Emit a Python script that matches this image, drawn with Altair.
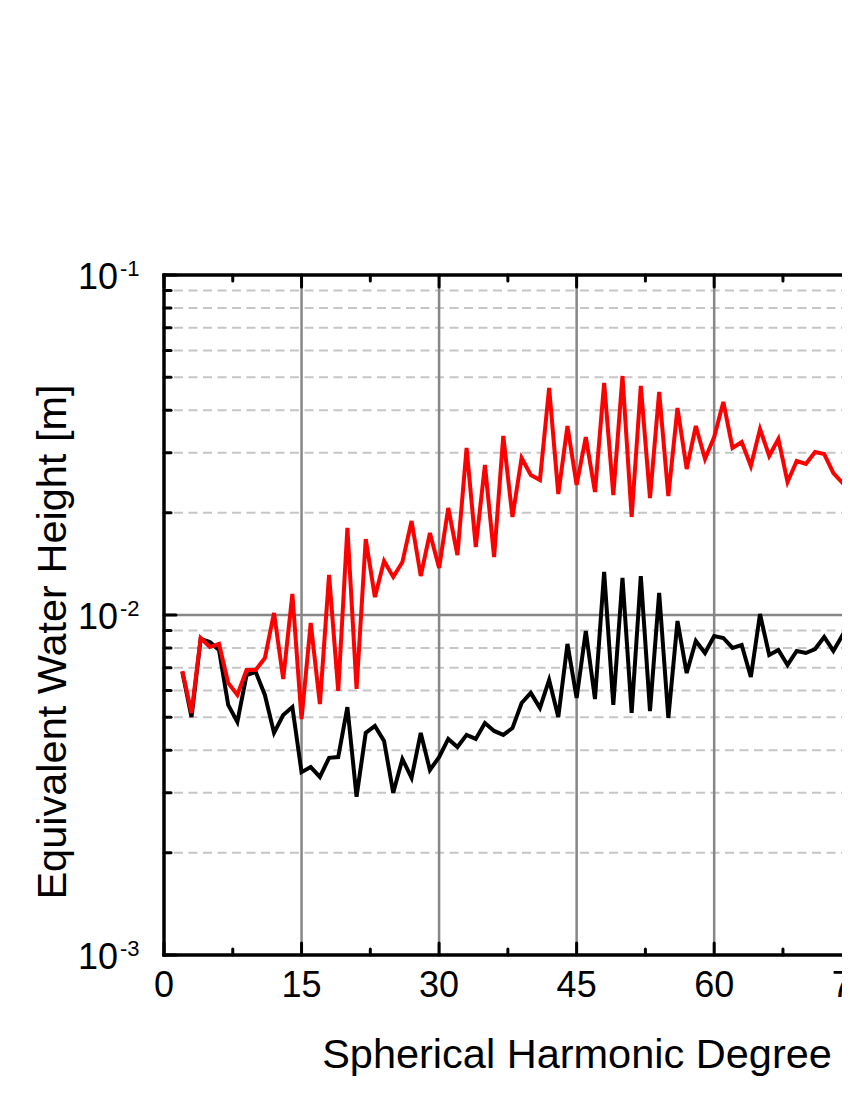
import altair as alt
import pandas as pd

# ---------------- data ----------------
degree = [2, 3, 4, 5, 6, 7, 8, 9, 10, 11,
          12, 13, 14, 15, 16, 17, 18, 19, 20, 21,
          22, 23, 24, 25, 26, 27, 28, 29, 30, 31,
          32, 33, 34, 35, 36, 37, 38, 39, 40, 41,
          42, 43, 44, 45, 46, 47, 48, 49, 50, 51,
          52, 53, 54, 55, 56, 57, 58, 59, 60, 61,
          62, 63, 64, 65, 66, 67, 68, 69, 70, 71,
          72, 73, 74, 75]

red_values = [0.00684, 0.00515, 0.00856, 0.00805, 0.00822, 0.00631, 0.00582, 0.00689, 0.00689, 0.00747,
              0.01014, 0.00648, 0.01153, 0.00494, 0.00947, 0.00547, 0.01311, 0.00598, 0.01803, 0.00606,
              0.01673, 0.01129, 0.01441, 0.01294, 0.01432, 0.01890, 0.01302, 0.01743, 0.01375, 0.02064,
              0.01501, 0.03099, 0.01585, 0.02762, 0.01481, 0.03361, 0.01942, 0.02896, 0.02581, 0.02495,
              0.04651, 0.02269, 0.03596, 0.02412, 0.03338, 0.02300, 0.04812, 0.02254, 0.05045, 0.01942,
              0.04716, 0.02208, 0.04528, 0.02239, 0.04062, 0.02688, 0.03596, 0.02876, 0.03338, 0.04231,
              0.03099, 0.03227, 0.02743, 0.03524, 0.02935, 0.03293, 0.02461, 0.02837, 0.02781, 0.03016,
              0.02975, 0.02616, 0.02445, 0.02818]

black_values = [0.00680, 0.00501, 0.00850, 0.00833, 0.00789, 0.00544, 0.00485, 0.00666, 0.00680, 0.00582,
                0.00450, 0.00508, 0.00536, 0.00345, 0.00357, 0.00334, 0.00380, 0.00382, 0.00536, 0.00292,
                0.00450, 0.00472, 0.00426, 0.00300, 0.00377, 0.00332, 0.00450, 0.00350, 0.00382, 0.00432,
                0.00409, 0.00444, 0.00432, 0.00481, 0.00456, 0.00444, 0.00465, 0.00551, 0.00590, 0.00533,
                0.00644, 0.00501, 0.00822, 0.00570, 0.00897, 0.00566, 0.01338, 0.00544, 0.01285, 0.00515,
                0.01302, 0.00522, 0.01161, 0.00498, 0.00960, 0.00675, 0.00839, 0.00773, 0.00867, 0.00856,
                0.00800, 0.00816, 0.00657, 0.01007, 0.00763, 0.00789, 0.00713, 0.00784, 0.00773, 0.00794,
                0.00862, 0.00784, 0.00873, 0.00763]

x_major_ticks = [0, 15, 30, 45, 60]
x_minor_ticks = [7.5, 22.5, 37.5, 52.5, 67.5]
x_grid = [15, 30, 45, 60]
x_label_pos = [0, 15, 30, 45, 60, 75]
x_label_text = ["0", "15", "30", "45", "60", "75"]

y_major = [0.001, 0.01, 0.1]
y_exponent = ["-3", "-2", "-1"]
y_minor = [0.002, 0.003, 0.004, 0.005, 0.006, 0.007, 0.008, 0.009,
           0.02, 0.03, 0.04, 0.05, 0.06, 0.07, 0.08, 0.09]
y_solid_grid = [0.01]

x_title = "Spherical Harmonic Degree"
y_title = "Equivalent Water Height [m]"

# ---------------- layout ----------------
W = 678
H = 680
FONT = "Liberation Sans"

xs = alt.Scale(domain=[0, 73.94], nice=False, zero=False)
ys = alt.Scale(type="log", domain=[0.001, 0.1], nice=False)

red_df = pd.DataFrame({"degree": degree, "value": red_values})
black_df = pd.DataFrame({"degree": degree, "value": black_values})
xmaj_df = pd.DataFrame({"d": x_major_ticks})
xmin_df = pd.DataFrame({"d": x_minor_ticks})
xgrid_df = pd.DataFrame({"d": x_grid})
xlab_df = pd.DataFrame({"d": x_label_pos, "t": x_label_text})
ymaj_df = pd.DataFrame({"v": y_major, "e": y_exponent})
ymin_df = pd.DataFrame({"v": y_minor})
ysolid_df = pd.DataFrame({"v": y_solid_grid})

X = lambda f: alt.X(f, scale=xs, axis=None)
Y = lambda f: alt.Y(f, scale=ys, axis=None)

hgrid_dash = alt.Chart(ymin_df).mark_rule(
    color="#c6c6c6", strokeWidth=2, strokeDash=[9, 5.5]
).encode(y=Y("v:Q"), x=alt.value(10), x2=alt.value(W))

hgrid_solid = alt.Chart(ysolid_df).mark_rule(
    color="#878787", strokeWidth=2.5
).encode(y=Y("v:Q"), x=alt.value(0), x2=alt.value(W))

vgrid = alt.Chart(xgrid_df).mark_rule(
    color="#878787", strokeWidth=2.5
).encode(x=X("d:Q"), y=alt.value(0), y2=alt.value(H))

black_line = alt.Chart(black_df).mark_line(
    color="#000000", strokeWidth=4, clip=True
).encode(x=X("degree:Q"), y=Y("value:Q"))

red_line = alt.Chart(red_df).mark_line(
    color="#ff0000", strokeWidth=4, clip=True
).encode(x=X("degree:Q"), y=Y("value:Q"))

# frame (left, top, bottom)
frame_left = alt.Chart(ysolid_df).mark_rule(color="black", strokeWidth=3.5).encode(
    x=alt.value(0), y=alt.value(-1.5), y2=alt.value(H + 1.5))
frame_top = alt.Chart(ysolid_df).mark_rule(color="black", strokeWidth=3.5).encode(
    x=alt.value(-1.5), x2=alt.value(W), y=alt.value(0))
frame_bottom = alt.Chart(ysolid_df).mark_rule(color="black", strokeWidth=3.5).encode(
    x=alt.value(-1.5), x2=alt.value(W), y=alt.value(H))

# ticks (inward)
tick_style = dict(color="black", strokeWidth=3, strokeCap="round")
xt_maj_bot = alt.Chart(xmaj_df).mark_rule(**tick_style).encode(
    x=X("d:Q"), y=alt.value(H), y2=alt.value(H - 12))
xt_min_bot = alt.Chart(xmin_df).mark_rule(**tick_style).encode(
    x=X("d:Q"), y=alt.value(H), y2=alt.value(H - 6))
xt_maj_top = alt.Chart(xmaj_df).mark_rule(**tick_style).encode(
    x=X("d:Q"), y=alt.value(0), y2=alt.value(12))
xt_min_top = alt.Chart(xmin_df).mark_rule(**tick_style).encode(
    x=X("d:Q"), y=alt.value(0), y2=alt.value(6))
yt_maj = alt.Chart(ymaj_df).mark_rule(**tick_style).encode(
    y=Y("v:Q"), x=alt.value(0), x2=alt.value(12))
yt_min = alt.Chart(ymin_df).mark_rule(**tick_style).encode(
    y=Y("v:Q"), x=alt.value(0), x2=alt.value(7))

# tick labels
x_labels = alt.Chart(xlab_df).mark_text(
    font=FONT, fontSize=36, align="center", baseline="alphabetic", color="black"
).encode(x=X("d:Q"), y=alt.value(H + 42), text="t:N")

y_labels_base = alt.Chart(ymaj_df).mark_text(
    font=FONT, fontSize=36, align="right", baseline="alphabetic", color="black", dy=14, text="10"
).encode(y=Y("v:Q"), x=alt.value(-46))

y_labels_exp = alt.Chart(ymaj_df).mark_text(
    font=FONT, fontSize=22, align="left", baseline="alphabetic", color="black", dy=1
).encode(y=Y("v:Q"), x=alt.value(-44), text="e:N")

# axis titles
x_title_mark = alt.Chart(ysolid_df).mark_text(
    font=FONT, fontSize=41.5, align="center", baseline="alphabetic", color="black", text=x_title
).encode(x=alt.value(413), y=alt.value(H + 113))

y_title_mark = alt.Chart(ysolid_df).mark_text(
    font=FONT, fontSize=41.5, align="center", baseline="alphabetic", color="black",
    angle=270, text=y_title
).encode(x=alt.value(-98), y=alt.value(367))

chart = alt.layer(
    hgrid_dash, hgrid_solid, vgrid,
    black_line, red_line,
    frame_left, frame_top, frame_bottom,
    xt_maj_bot, xt_min_bot, xt_maj_top, xt_min_top, yt_maj, yt_min,
    x_labels, y_labels_base, y_labels_exp,
    x_title_mark, y_title_mark,
).properties(
    width=W,
    height=H,
    autosize=alt.AutoSizeParams(type="none"),
    padding={"left": 156, "top": 267, "right": 0, "bottom": 130},
    background="white",
).configure_view(strokeWidth=0)

chart.save("out.html", embed_options={"renderer": "svg", "actions": False})
